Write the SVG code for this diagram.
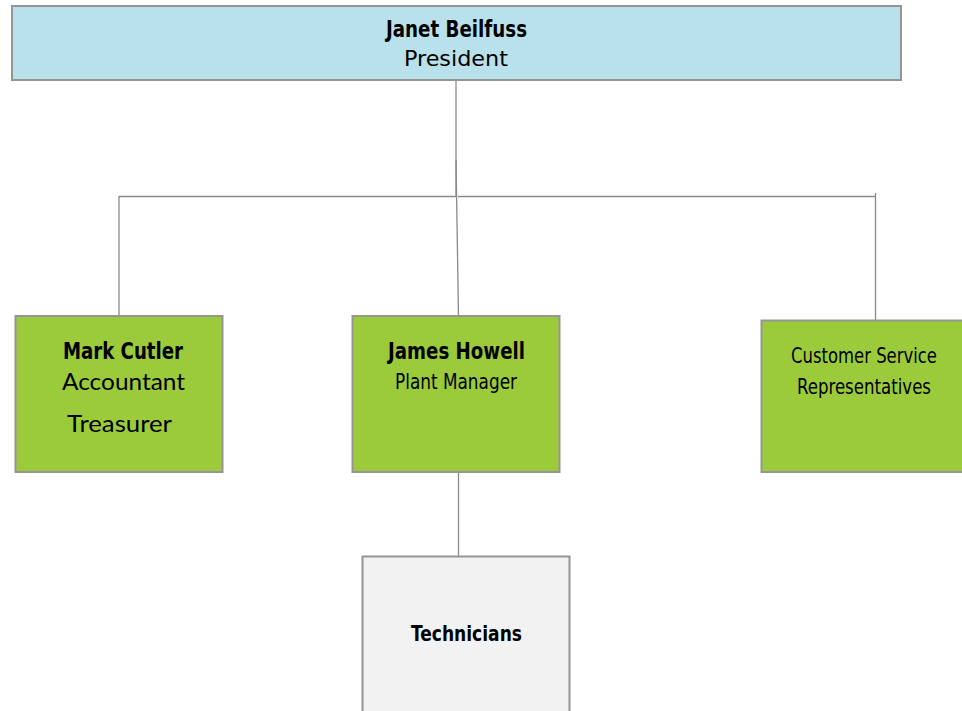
<svg xmlns="http://www.w3.org/2000/svg" width="962" height="711" viewBox="0 0 962 711">
<style>
.box{stroke:#959595;stroke-width:2}
.blue{fill:#b9e1eb}
.green{fill:#9bcb3b}
.gray{fill:#f2f2f2}
.b{font-family:"DejaVu Sans Condensed","DejaVu Sans",sans-serif;font-weight:bold;fill:#000}
.n{font-family:"DejaVu Sans Condensed","DejaVu Sans",sans-serif;fill:#000}
.g{font-family:"Lato","Noto Sans",sans-serif;fill:#000}
.c{stroke:#8a8a8a;stroke-width:1.3;fill:none}
</style>
<rect width="962" height="711" fill="#fff"/>
<g id="connectors">
<line class="c" x1="456" y1="80" x2="456" y2="196"/>
<line class="c" x1="456" y1="160" x2="458.5" y2="316"/>
<line class="c" x1="119" y1="196.5" x2="456" y2="196.5"/>
<line class="c" x1="458" y1="196.5" x2="876" y2="196.5"/>
<line class="c" x1="119" y1="196" x2="119" y2="316"/>
<line class="c" x1="875.5" y1="193" x2="875.5" y2="320"/>
<line class="c" x1="458.5" y1="472" x2="458.5" y2="556"/>
</g>
<g id="president">
<rect class="box blue" x="12" y="6" width="889" height="74"/>
<text class="b" x="456.5" y="37" font-size="23" text-anchor="middle" textLength="141" lengthAdjust="spacingAndGlyphs">Janet Beilfuss</text>
<text class="n" x="456" y="66" font-size="22" text-anchor="middle" textLength="104" lengthAdjust="spacingAndGlyphs">President</text>
</g>
<g id="mark-cutler">
<rect class="box green" x="15.5" y="316" width="207" height="156"/>
<text class="b" x="123" y="359" font-size="23" text-anchor="middle" textLength="120" lengthAdjust="spacingAndGlyphs">Mark Cutler</text>
<text class="g" x="123.5" y="390" font-size="23" text-anchor="middle" textLength="123" lengthAdjust="spacingAndGlyphs">Accountant</text>
<text class="g" x="119.5" y="432" font-size="23" text-anchor="middle" textLength="105" lengthAdjust="spacingAndGlyphs">Treasurer</text>
</g>
<g id="james-howell">
<rect class="box green" x="352.5" y="316" width="207" height="156"/>
<text class="b" x="456.5" y="359" font-size="23" text-anchor="middle" textLength="137" lengthAdjust="spacingAndGlyphs">James Howell</text>
<text class="n" x="456" y="389" font-size="21" text-anchor="middle" textLength="122" lengthAdjust="spacingAndGlyphs">Plant Manager</text>
</g>
<g id="customer-service">
<rect class="box green" x="761.5" y="320.5" width="210" height="151.5"/>
<text class="n" x="864" y="363" font-size="21" text-anchor="middle" textLength="146" lengthAdjust="spacingAndGlyphs">Customer Service</text>
<text class="n" x="864" y="394" font-size="21" text-anchor="middle" textLength="134" lengthAdjust="spacingAndGlyphs">Representatives</text>
</g>
<g id="technicians">
<rect class="box gray" x="362.5" y="556.5" width="207" height="170"/>
<text class="b" x="466.5" y="641" font-size="22" text-anchor="middle" textLength="111" lengthAdjust="spacingAndGlyphs">Technicians</text>
</g>
</svg>
